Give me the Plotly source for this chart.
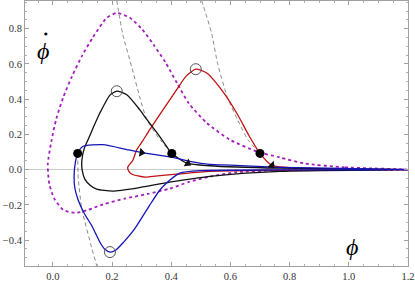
import plotly.graph_objects as go

# --- data (phi, phidot) ---
mag_x = [1.2, 0.986, 0.851, 0.767, 0.689, 0.598, 0.52, 0.46, 0.42, 0.38, 0.34, 0.30, 0.26, 0.216,
         0.182, 0.135, 0.10, 0.065, 0.035, 0.012, -0.005, -0.017, -0.012, 0.005, 0.035, 0.074, 0.12,
         0.17, 0.243, 0.32, 0.395, 0.46, 0.53, 0.62, 0.767, 1.2]
mag_y = [0.0, 0.013, 0.035, 0.069, 0.103, 0.170, 0.265, 0.375, 0.49, 0.61, 0.71, 0.80, 0.862, 0.889,
         0.861, 0.75, 0.65, 0.53, 0.41, 0.29, 0.16, 0.03, -0.08, -0.165, -0.228, -0.246, -0.228,
         -0.197, -0.165, -0.138, -0.108, -0.07, -0.04, -0.015, -0.004, 0.0]

blk_x = [1.2, 0.767, 0.53, 0.456, 0.402, 0.362, 0.317, 0.294, 0.25, 0.216, 0.193, 0.159, 0.137, 0.119,
         0.106, 0.098, 0.099, 0.108, 0.127, 0.148, 0.203, 0.284, 0.395, 0.53, 0.767, 1.2]
blk_y = [0.0, 0.008, 0.022, 0.035, 0.092, 0.186, 0.286, 0.339, 0.425, 0.445, 0.423, 0.321, 0.24, 0.17,
         0.12, 0.05, 0.0, -0.054, -0.09, -0.111, -0.122, -0.105, -0.071, -0.038, -0.01, 0.0]

red_x = [1.2, 0.9, 0.74, 0.70, 0.662, 0.625, 0.58, 0.52, 0.483, 0.449, 0.419, 0.372, 0.327, 0.304,
         0.284, 0.27, 0.253, 0.257, 0.267, 0.311, 0.338, 0.419, 0.53, 0.767, 1.2]
red_y = [0.0, 0.005, 0.024, 0.092, 0.195, 0.31, 0.43, 0.548, 0.570, 0.528, 0.455, 0.339, 0.226, 0.164,
         0.114, 0.052, 0.013, -0.01, -0.026, -0.043, -0.038, -0.026, -0.01, -0.004, 0.0]

blu_x = [1.2, 0.767, 0.6, 0.53, 0.463, 0.405, 0.301, 0.25, 0.169, 0.101, 0.084, 0.076, 0.072, 0.074,
         0.085, 0.105, 0.132, 0.16, 0.176, 0.193, 0.212, 0.24, 0.277, 0.328, 0.36, 0.385, 0.429, 0.5,
         0.767, 1.2]
blu_y = [0.0, 0.013, 0.026, 0.03, 0.047, 0.069, 0.097, 0.114, 0.142, 0.131, 0.092, 0.04, -0.03, -0.1,
         -0.17, -0.245, -0.32, -0.415, -0.452, -0.468, -0.458, -0.41, -0.335, -0.2, -0.12, -0.075, -0.02,
         -0.006, -0.002, 0.0]

d1_x = [0.216, 0.236, 0.267, 0.294, 0.318, 0.362, 0.402]
d1_y = [0.96, 0.771, 0.58, 0.41, 0.282, 0.17, 0.092]
d2_x = [0.503, 0.514, 0.537, 0.557, 0.59, 0.625, 0.659, 0.70]
d2_y = [0.96, 0.9, 0.771, 0.6, 0.41, 0.28, 0.17, 0.092]
d3_x = [0.084, 0.086, 0.098, 0.132, 0.149, 0.153]
d3_y = [0.092, -0.05, -0.223, -0.448, -0.55, -0.58]

dot_x = [0.084, 0.402, 0.70]
dot_y = [0.092, 0.092, 0.092]
circ_x = [0.216, 0.483, 0.193]
circ_y = [0.445, 0.570, -0.468]
arr_x = [0.30, 0.456, 0.74]
arr_y = [0.097, 0.035, 0.024]
arr_ang = [10, 32, 45]

x_ticks = [0.0, 0.2, 0.4, 0.6, 0.8, 1.0, 1.2]
y_ticks = [-0.4, -0.2, 0.0, 0.2, 0.4, 0.6, 0.8]

fig = go.Figure()

def add_line(x, y, color, width=1.3, dash="solid", smoothing=0.6):
    fig.add_trace(go.Scatter(x=x, y=y, mode="lines",
                             line=dict(color=color, width=width, dash=dash, shape="spline", smoothing=smoothing),
                             hoverinfo="skip", showlegend=False))

add_line(d1_x, d1_y, "#8a8a8a", 1.0, "4px,3px")
add_line(d2_x, d2_y, "#8a8a8a", 1.0, "4px,3px")
add_line(d3_x, d3_y, "#8a8a8a", 1.0, "4px,3px")
add_line(mag_x, mag_y, "#a21fbd", 1.8, "dot")
add_line(red_x, red_y, "#c01212", 1.3)
add_line(blk_x, blk_y, "#111111", 1.3)
add_line(blu_x, blu_y, "#1414b8", 1.3)

fig.add_trace(go.Scatter(x=arr_x, y=arr_y, mode="markers",
                         marker=dict(symbol="triangle-right", size=8, angle=arr_ang, color="#111111", line=dict(width=0)),
                         showlegend=False, hoverinfo="skip"))
fig.add_trace(go.Scatter(x=circ_x, y=circ_y, mode="markers",
                         marker=dict(symbol="circle-open", size=11, color="#555555", line=dict(width=1, color="#555555")),
                         showlegend=False, hoverinfo="skip"))
fig.add_trace(go.Scatter(x=dot_x, y=dot_y, mode="markers",
                         marker=dict(symbol="circle", size=9, color="#000000"),
                         showlegend=False, hoverinfo="skip"))

axis_common = dict(showgrid=False, showline=True, linecolor="#a0a0a0", linewidth=1, mirror="ticks",
                   ticks="inside", ticklen=4, tickcolor="#a0a0a0", tickwidth=1, automargin=False,
                   tickfont=dict(family="Liberation Serif", size=10.5, color="#333333"),
                   minor=dict(ticks="inside", ticklen=2, tickcolor="#b0b0b0", dtick=0.05, showgrid=False))

fig.update_xaxes(range=[-0.094, 1.2], tickvals=x_ticks, ticktext=[f"{v:.1f}" for v in x_ticks],
                 zeroline=False, **axis_common)
fig.update_yaxes(range=[-0.547, 0.957], tickvals=y_ticks,
                 ticktext=[f"{v:.1f}" if v >= 0 else f"\u2212{abs(v):.1f}" for v in y_ticks],
                 zeroline=True, zerolinecolor="#cccccc", zerolinewidth=1, **axis_common)

fig.add_annotation(x=-0.034, y=0.672, text="<i>\u03d5</i>", showarrow=False,
                   font=dict(family="Liberation Serif", size=24, color="#000"), xanchor="center", yanchor="middle")
fig.add_annotation(x=-0.023, y=0.772, text="\u25cf", showarrow=False,
                   font=dict(family="DejaVu Sans", size=4, color="#000"), xanchor="center", yanchor="middle")
fig.add_annotation(x=1.01, y=-0.437, text="<i>\u03d5</i>", showarrow=False,
                   font=dict(family="Liberation Serif", size=24, color="#000"), xanchor="center", yanchor="middle")

fig.update_layout(width=415, height=282, margin=dict(l=25, r=7, t=1, b=16),
                  plot_bgcolor="white", paper_bgcolor="white")

fig.write_html("out.html", config={"displayModeBar": False},
               post_script="document.body.style.margin='0px';")
